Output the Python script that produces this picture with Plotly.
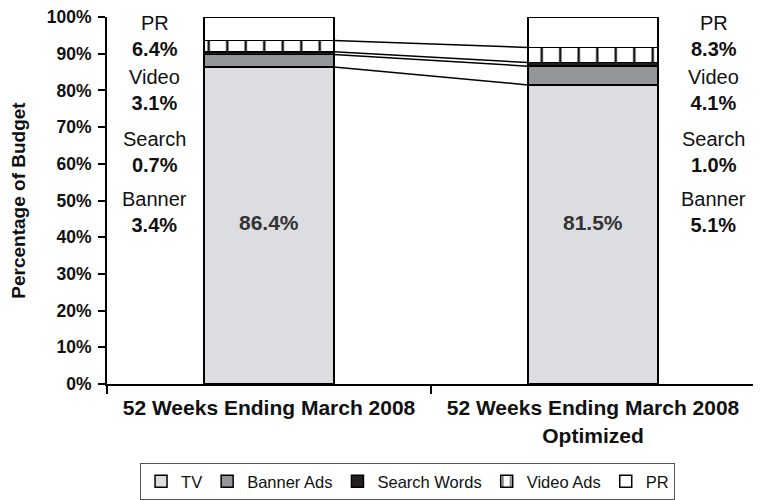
import plotly.graph_objects as go

categories = ["52 Weeks Ending March 2008", "52 Weeks Ending March 2008<br>Optimized"]
series_names = ["TV", "Banner Ads", "Search Words", "Video Ads", "PR"]
tv = [86.4, 81.5]
banner = [3.4, 5.1]
search = [0.7, 1.0]
video = [3.1, 4.1]
pr = [6.4, 8.3]
side_names = ["PR", "Video", "Search", "Banner"]
left_values = ["6.4%", "3.1%", "0.7%", "3.4%"]
right_values = ["8.3%", "4.1%", "1.0%", "5.1%"]
y_ticks = list(range(0, 101, 10))

series = [tv, banner, search, video, pr]
colors = ["#dcdde0", "#939598", "#231f20", "#ffffff", "#ffffff"]
xpos = [0, 1]
BW = 0.4
FONT = "Liberation Sans, Arial, sans-serif"

fig = go.Figure()
for name, vals, col in zip(series_names, series, colors):
    marker = dict(color=col, line=dict(color="#000000", width=1.5))
    if name == "Video Ads":
        marker["pattern"] = dict(shape="|", fgcolor="#000000", bgcolor="#ffffff",
                                 size=18.5, solidity=0.12, fillmode="replace")
    fig.add_trace(go.Bar(x=xpos, y=vals, name=name, width=BW, marker=marker,
                         hoverinfo="skip"))

# connector lines between stacked segment tops
cum = [0, 0]
for vals in series[:-1]:
    cum = [cum[i] + vals[i] for i in range(2)]
    fig.add_trace(go.Scatter(x=[xpos[0] + BW / 2, xpos[1] - BW / 2], y=list(cum),
                             mode="lines", line=dict(color="#000000", width=1.5),
                             showlegend=False, hoverinfo="skip"))

# in-bar TV labels
for i in range(2):
    fig.add_annotation(x=xpos[i], y=44, text=f"<b>{tv[i]}%</b>", showarrow=False,
                       font=dict(size=21, color="#333333", family=FONT))

mid_y = [94.8, 80.0, 63.2, 47.0]
for xs, vals in ((-0.352, left_values), (1.373, right_values)):
    for nm, v, my in zip(side_names, vals, mid_y):
        fig.add_annotation(x=xs, y=my, text=f"{nm}<br><b>{v}</b>", showarrow=False,
                           font=dict(size=20, color="#111111", family=FONT))

# page body has an 8px margin, so the figure is 8px smaller and margins shifted
fig.update_layout(
    barmode="stack",
    width=753, height=492,
    margin=dict(l=99, r=6, t=9, b=116, autoexpand=False),
    paper_bgcolor="#ffffff", plot_bgcolor="#ffffff",
    font=dict(family=FONT, color="#111111"),
    showlegend=True,
    legend=dict(orientation="h", x=0.051, y=-0.215, xanchor="left", yanchor="top",
                bordercolor="#555555", borderwidth=1,
                font=dict(size=16.5, family=FONT, color="#111111"),
                traceorder="normal", itemwidth=30),
    xaxis=dict(range=[-0.5, 1.5], tickvals=xpos, ticktext=[f"<b>{c}</b>" for c in categories],
               ticks="", showline=True, linecolor="#000000", linewidth=2,
               tickfont=dict(size=21, family=FONT, color="#111111"),
               ticklabelstandoff=4,
               showgrid=False, zeroline=False, fixedrange=True, automargin=False,
               minor=dict(tickmode="array", tickvals=[-0.5, 0.5, 1.5], ticks="outside",
                          ticklen=8, tickcolor="#000000", tickwidth=2, showgrid=False)),
    yaxis=dict(range=[0, 100], tickvals=y_ticks, ticktext=[f"{v}%" for v in y_ticks],
               ticks="outside", ticklen=7, tickwidth=2, tickcolor="#000000",
               showline=True, linecolor="#000000", linewidth=2, automargin=False,
               ticklabeloverflow="allow", ticklabelstandoff=3,
               tickfont=dict(size=17.5, family=FONT, color="#111111", weight="bold"),
               title=dict(text="<b>Percentage of Budget</b>",
                          font=dict(size=19, family=FONT, color="#111111"), standoff=25),
               showgrid=False, zeroline=False),
)
fig.write_html("out.html")
